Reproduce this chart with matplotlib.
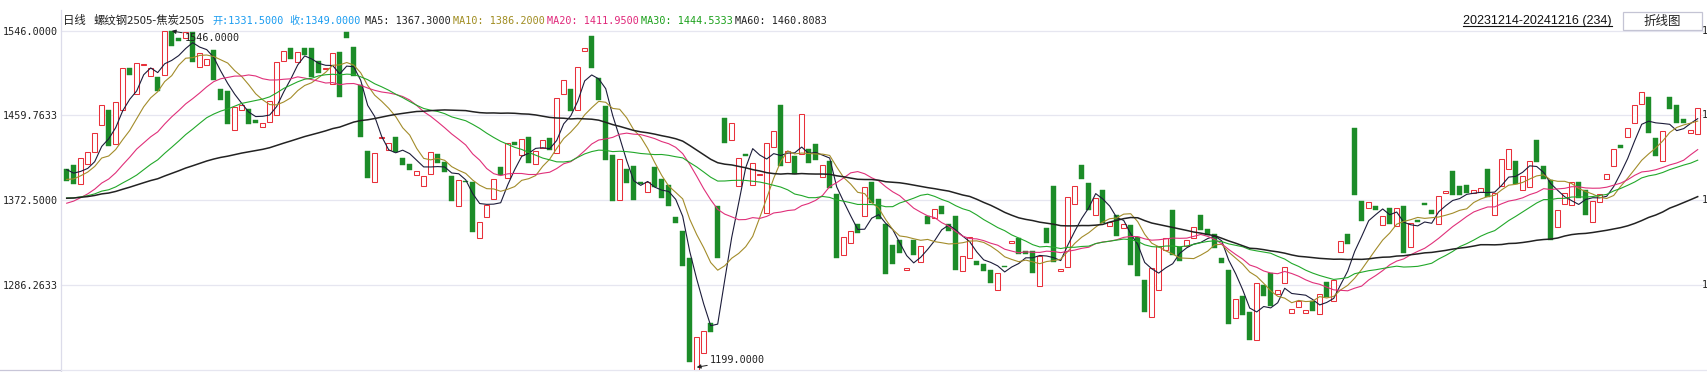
#-*- coding:utf-8 -*-

"""
    螺纹钢2505-焦炭2505 日线 K线图 (带均线)
"""

import numpy as np
import pandas as pd
import matplotlib
matplotlib.use('Agg')
import matplotlib.pyplot as plt
from matplotlib.lines import Line2D
from matplotlib.patches import Rectangle

W, H = 1708, 372

# ========= 数据 =========
opens = [
    1405.0, 1409.1, 1389.3, 1409.8, 1422.4, 1449.8, 1465.5, 1430.3, 1465.5, 1508.1,
    1481.5, 1510.8, 1500.3, 1498.9, 1500.6, 1545.7, 1538.8, 1538.8, 1544.6, 1509.1,
    1511.2, 1526.9, 1487.0, 1484.9, 1444.6, 1465.1, 1466.5, 1455.2, 1447.7, 1452.8,
    1460.0, 1515.3, 1528.6, 1514.3, 1528.6, 1528.6, 1515.6, 1507.1, 1492.1, 1524.8,
    1545.0, 1530.0, 1490.4, 1423.5, 1391.4, 1436.4, 1423.8, 1437.5, 1416.0, 1409.8,
    1398.6, 1387.3, 1399.6, 1420.1, 1412.2, 1397.9, 1366.8, 1392.8, 1391.4, 1334.0,
    1355.6, 1374.0, 1407.1, 1395.8, 1432.4, 1419.0, 1437.1, 1409.8, 1426.2, 1436.1,
    1421.1, 1481.5, 1487.0, 1465.1, 1525.5, 1541.2, 1498.2, 1469.5, 1419.4, 1373.0,
    1405.0, 1408.1, 1391.4, 1380.8, 1407.1, 1394.8, 1388.0, 1355.9, 1340.9, 1313.2,
    1199.0, 1216.3, 1247.4, 1367.2, 1457.3, 1434.4, 1387.3, 1420.4, 1388.3, 1398.6,
    1359.7, 1427.2, 1470.6, 1411.5, 1418.4, 1420.0, 1425.5, 1430.3, 1396.5, 1412.9,
    1379.4, 1316.6, 1329.0, 1348.4, 1356.6, 1391.7, 1374.0, 1348.7, 1327.2, 1331.7,
    1301.3, 1332.4, 1309.5, 1356.2, 1354.2, 1367.2, 1348.7, 1356.9, 1299.9, 1313.6,
    1310.8, 1307.8, 1301.6, 1281.1, 1305.7, 1328.9, 1334.0, 1321.1, 1321.1, 1284.6,
    1344.3, 1386.9, 1299.9, 1304.0, 1368.9, 1409.1, 1390.7, 1357.3, 1383.5, 1346.0,
    1358.0, 1344.0, 1347.7, 1335.1, 1290.7, 1253.2, 1280.5, 1322.1, 1363.1, 1324.5,
    1325.5, 1334.0, 1358.0, 1343.6, 1338.5, 1313.2, 1301.6, 1252.1, 1274.3, 1258.6,
    1229.3, 1286.3, 1298.2, 1276.4, 1288.0, 1257.3, 1263.4, 1256.9, 1269.2, 1256.2,
    1288.7, 1269.6, 1319.7, 1338.5, 1447.0, 1372.3, 1364.8, 1367.2, 1347.4, 1365.1,
    1346.0, 1367.2, 1324.8, 1352.5, 1369.5, 1363.1, 1348.4, 1380.5, 1403.0, 1386.9,
    1388.7, 1379.8, 1381.1, 1405.0, 1357.6, 1386.9, 1404.7, 1413.2, 1383.2, 1386.3,
    1434.7, 1408.1, 1393.1, 1345.3, 1368.9, 1367.9, 1391.7, 1383.5, 1350.4, 1371.3,
    1394.5, 1407.8, 1429.6, 1437.5, 1451.8, 1471.3, 1478.8, 1436.8, 1413.2, 1478.8,
    1470.6, 1456.2, 1441.6, 1440.5,
]
closes = [
    1392.1, 1389.0, 1416.0, 1422.1, 1441.6, 1470.2, 1427.9, 1473.3, 1508.1, 1500.6,
    1513.2, 1510.8, 1508.1, 1484.2, 1546.0, 1530.3, 1535.4, 1544.6, 1513.9, 1523.5,
    1517.3, 1495.5, 1475.0, 1450.4, 1468.2, 1470.6, 1450.8, 1451.8, 1451.8, 1474.7,
    1514.3, 1525.2, 1517.3, 1524.5, 1521.1, 1498.9, 1502.7, 1507.1, 1523.5, 1478.1,
    1538.8, 1499.6, 1437.5, 1395.1, 1421.1, 1436.4, 1431.3, 1422.4, 1408.5, 1403.3,
    1402.3, 1397.5, 1422.1, 1410.5, 1401.3, 1371.6, 1393.4, 1391.1, 1339.9, 1350.4,
    1367.5, 1394.5, 1398.2, 1431.0, 1428.9, 1435.4, 1410.5, 1423.1, 1434.4, 1423.8,
    1477.4, 1495.8, 1463.7, 1509.1, 1528.6, 1507.8, 1475.7, 1413.6, 1371.6, 1414.9,
    1390.0, 1373.3, 1389.7, 1391.7, 1385.9, 1374.7, 1366.5, 1349.1, 1305.0, 1206.7,
    1232.7, 1238.8, 1237.5, 1313.2, 1431.3, 1451.8, 1416.0, 1417.7, 1410.8, 1398.6,
    1431.3, 1443.6, 1408.1, 1423.1, 1399.9, 1461.0, 1410.8, 1413.6, 1408.8, 1385.2,
    1313.2, 1335.1, 1341.2, 1339.2, 1386.3, 1369.5, 1353.5, 1296.8, 1307.4, 1318.7,
    1303.3, 1316.3, 1325.5, 1348.0, 1363.7, 1358.3, 1340.9, 1300.9, 1316.0, 1335.1,
    1306.1, 1299.9, 1288.0, 1298.2, 1304.0, 1331.3, 1317.7, 1317.3, 1298.2, 1316.0,
    1328.6, 1309.1, 1302.3, 1376.4, 1387.6, 1394.8, 1363.1, 1375.4, 1349.4, 1350.8,
    1335.8, 1348.7, 1306.7, 1295.5, 1258.0, 1303.7, 1326.2, 1333.7, 1316.6, 1310.8,
    1332.4, 1345.3, 1341.9, 1336.8, 1323.5, 1308.1, 1246.4, 1271.9, 1254.9, 1230.0,
    1288.0, 1274.3, 1264.8, 1281.1, 1304.4, 1261.3, 1269.9, 1260.3, 1259.0, 1276.7,
    1274.0, 1290.7, 1331.3, 1327.6, 1377.7, 1351.1, 1370.9, 1362.4, 1356.6, 1348.0,
    1365.1, 1318.7, 1349.4, 1350.8, 1367.9, 1358.6, 1377.4, 1380.5, 1377.7, 1377.7,
    1380.1, 1383.2, 1385.2, 1376.4, 1380.1, 1414.9, 1425.2, 1389.0, 1397.5, 1412.9,
    1411.5, 1394.5, 1332.3, 1362.7, 1380.1, 1391.4, 1375.4, 1357.6, 1371.6, 1379.4,
    1399.6, 1425.2, 1426.2, 1446.7, 1470.2, 1483.9, 1441.2, 1417.7, 1443.3, 1466.1,
    1451.5, 1451.5, 1444.6, 1467.2,
]

# 区间之前的收盘价水平 (由首根K线处各均线位置估计), 仅用于计算均线
prior_closes = [1374.4] * 30 + [1385.8] * 10 + [1345.2] * 10 + [1384.0] * 5 + [1407.0] * 4

ma_periods = [5, 10, 20, 30, 60]
ma_colors = ['#1c1c3a', '#a38c2a', '#e0307a', '#22a82a', '#222222']
ma_widths = [0.8, 0.8, 0.8, 0.8, 1.1]

y_ticks = [1546.0, 1459.7633, 1372.5, 1286.2633]
y_tick_labels = ['1546.0000', '1459.7633', '1372.5000', '1286.2633']

header_parts = [
    (62.7, '日线', '#222222'),
    (93.3, '螺纹钢2505-焦炭2505', '#222222'),
    (212.3, '开:1331.5000', '#1a9cf0'),
    (289.3, '收:1349.0000', '#1a9cf0'),
    (365.3, 'MA5: 1367.3000', '#222222'),
    (452.7, 'MA10: 1386.2000', '#a08c20'),
    (546.7, 'MA20: 1411.9500', '#e0287a'),
    (641.0, 'MA30: 1444.5333', '#1aa01a'),
    (735.0, 'MA60: 1460.8083', '#222222'),
]
date_range = '20231214-20241216 (234)'

RED = '#e8303a'
GREEN = '#1c8c28'
GRID = '#e6e6f0'
MONO = ['DejaVu Sans Mono', 'Noto Sans CJK SC']


def fx(x):
    return x / W


def fy(y):
    return 1 - y / H


def main():
    o = np.array(opens)
    c = np.array(closes)
    n = len(c)
    idx = np.arange(n)

    fig = plt.figure(figsize=(W / 100, H / 100), dpi=100)
    fig.patch.set_facecolor('white')

    # 绘图区: 左 61px, 右 1703px, 上 31px (1546), 下 369px
    ax = fig.add_axes([fx(61), fy(369), fx(1703 - 61), (369 - 31) / H])
    y_top = 1546.0
    y_bot = y_top - 338 * 1.0242
    ax.set_ylim(y_bot, y_top)
    x0 = -(66.7 - 61) / 7
    ax.set_xlim(x0, x0 + (1703 - 61) / 7)
    for s in ax.spines.values():
        s.set_visible(False)
    ax.set_xticks([])
    ax.set_yticks(y_ticks)
    ax.set_yticklabels(y_tick_labels, family=MONO, fontsize=7.3, color='#222222')
    ax.tick_params(axis='y', length=0, pad=2)
    for t in y_ticks:
        ax.axhline(t, color=GRID, lw=0.9, zorder=0, clip_on=False)

    # ========= K线 =========
    up = c >= o
    lo = np.minimum(o, c)
    hi = np.abs(c - o)
    hi = np.maximum(hi, 1.2)
    ax.bar(idx[up], hi[up], bottom=lo[up], width=0.68, facecolor='white',
           edgecolor=RED, linewidth=0.75, zorder=2, clip_on=False)
    ax.bar(idx[~up], hi[~up], bottom=lo[~up], width=0.68, facecolor=GREEN,
           edgecolor=GREEN, linewidth=0.3, zorder=2, clip_on=False)

    # ========= 均线 =========
    full = pd.Series(prior_closes + list(closes))
    k = len(prior_closes)
    for p, col, lw in zip(ma_periods, ma_colors, ma_widths):
        ma = full.rolling(p).mean().values[k:]
        ax.plot(idx, ma, color=col, lw=lw, zorder=3)

    # ========= 最高/最低标注 =========
    i_max = int(np.argmax(np.maximum(o, c)))
    i_min = int(np.argmin(np.minimum(o, c)))
    arrow = dict(arrowstyle='-|>', color='#222222', lw=0.7, mutation_scale=6,
                 shrinkA=0, shrinkB=0)
    ax.annotate('1546.0000', xy=(i_max + 1, max(o[i_max], c[i_max])),
                xytext=(16.9, 1539.1), ha='left', va='center', family=MONO,
                fontsize=7.3, color='#222222', arrowprops=arrow, zorder=4)
    ax.annotate('1199.0000', xy=(i_min, 1201.6), xytext=(91.9, 1209.0),
                ha='left', va='center', family=MONO, fontsize=7.3,
                color='#222222', arrowprops=arrow, zorder=4, annotation_clip=False)

    # ========= 坐标线 =========
    fig.add_artist(Line2D([fx(61), fx(61)], [fy(10), fy(372)], color='#dcdcea', lw=0.9))
    fig.add_artist(Line2D([0, fx(61)], [fy(369.5), fy(369.5)], color='#c8c6d8', lw=0.9))
    fig.add_artist(Line2D([fx(61), 1], [fy(369.5), fy(369.5)], color='#e6e6f0', lw=0.9))

    # 右侧刻度标签只露出首字符
    for t in y_ticks:
        yy = 31 + (y_top - t) / 1.0242
        fig.text(fx(1701.5), fy(yy), '1', family=MONO, fontsize=7.3,
                 color='#222222', va='center', ha='left')

    # ========= 标题栏 =========
    for x, s, col in header_parts:
        cjk = s[0] in '日螺'
        fam = ['Noto Sans CJK SC', 'DejaVu Sans'] if cjk else MONO
        size = 8.2 if cjk else 7.3
        fig.text(fx(x), fy(24), s, family=fam, fontsize=size, color=col,
                 va='baseline', ha='left')

    fig.text(fx(1463.3), fy(24), date_range,
             family=['Liberation Sans Narrow', 'Liberation Sans'],
             fontsize=9.0, color='#111111', va='baseline', ha='left')
    fig.add_artist(Line2D([fx(1463.3), fx(1611.7)], [fy(25.5), fy(25.5)],
                          color='#111111', lw=0.8))

    fig.add_artist(Rectangle((fx(1622.7), fy(30)), fx(1701.7 - 1622.7), 18.3 / H,
                             transform=fig.transFigure, facecolor='white',
                             edgecolor='#c4c4d4', lw=0.9))
    fig.text(fx(1662), fy(21), '折线图', family=['Noto Sans CJK SC'],
             fontsize=9, color='#222222', va='center', ha='center')

    fig.savefig('out.png', dpi=100, facecolor='white')


if __name__ == "__main__":
    main()
